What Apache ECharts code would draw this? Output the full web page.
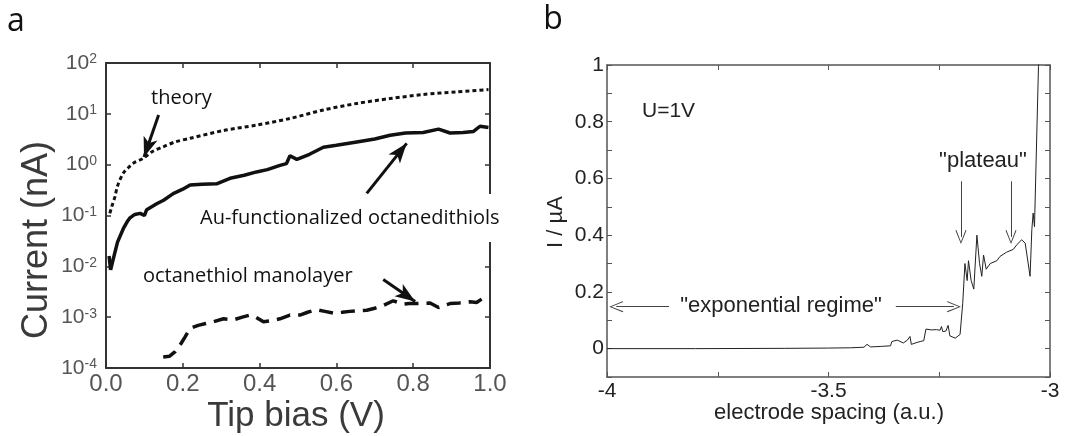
<!DOCTYPE html>
<html><head><meta charset="utf-8">
<script src="https://cdn.jsdelivr.net/npm/echarts@6/dist/echarts.min.js"></script>
<style>html,body{margin:0;padding:0;background:#fff}#c{width:1067px;height:436px}</style>
</head><body><div id="c"></div>
<script>
// ---------- Panel a data (Current nA vs Tip bias V) ----------
const theoryX = [0.01, 0.015, 0.023, 0.03, 0.045, 0.06, 0.071, 0.097, 0.12, 0.149, 0.18, 0.219, 0.306, 0.392, 0.479, 0.566, 0.653, 0.74, 0.826, 0.913, 0.996];
const theoryY = [0.11, 0.15, 0.23, 0.38, 0.68, 0.9, 1.07, 1.33, 1.8, 2.25, 2.8, 3.3, 4.7, 6.0, 8.1, 11.9, 16, 20, 24, 27, 30];

const auX = [0.008, 0.012, 0.02, 0.03, 0.045, 0.055, 0.0625, 0.075, 0.089, 0.1, 0.106, 0.12, 0.132, 0.15, 0.175, 0.2, 0.219, 0.25, 0.288, 0.323, 0.36, 0.392, 0.42, 0.453, 0.47, 0.479, 0.497, 0.53, 0.566, 0.6, 0.653, 0.7, 0.74, 0.78, 0.826, 0.866, 0.896, 0.93, 0.957, 0.974, 0.996];
const auY = [0.016, 0.0085, 0.015, 0.03, 0.055, 0.075, 0.09, 0.105, 0.11, 0.1, 0.13, 0.15, 0.17, 0.2, 0.27, 0.33, 0.40, 0.41, 0.42, 0.54, 0.62, 0.72, 0.8, 0.97, 1.05, 1.5, 1.27, 1.6, 2.2, 2.4, 2.8, 3.2, 3.8, 4.2, 4.3, 5.0, 4.2, 4.3, 4.5, 5.7, 5.4];

const octX = [0.149, 0.165, 0.18, 0.195, 0.206, 0.219, 0.24, 0.26, 0.279, 0.306, 0.332, 0.355, 0.375, 0.39, 0.41, 0.43, 0.453, 0.479, 0.505, 0.525, 0.548, 0.57, 0.592, 0.615, 0.635, 0.66, 0.679, 0.7, 0.722, 0.748, 0.774, 0.79, 0.809, 0.844, 0.866, 0.88, 0.896, 0.92, 0.948, 0.965, 0.987];
const octY = [1.65e-4, 1.7e-4, 2.1e-4, 3e-4, 4.1e-4, 6e-4, 6.9e-4, 7.5e-4, 8.1e-4, 9.3e-4, 8.9e-4, 1.0e-3, 1.1e-3, 1.0e-3, 8.1e-4, 8.5e-4, 9.3e-4, 1.1e-3, 1.1e-3, 1.25e-3, 1.4e-3, 1.3e-3, 1.2e-3, 1.25e-3, 1.3e-3, 1.35e-3, 1.37e-3, 1.5e-3, 1.7e-3, 2.1e-3, 1.8e-3, 1.85e-3, 1.85e-3, 1.9e-3, 1.55e-3, 1.7e-3, 1.85e-3, 1.9e-3, 2.0e-3, 1.95e-3, 2.5e-3];

// annotation arrows in panel a: [from, to] in data coordinates
const arrowsA = [
  [[0.137, 9.5], [0.099, 1.41]],
  [[0.679, 0.272], [0.783, 2.63]],
  [[0.722, 5.5e-3], [0.805, 2.04e-3]]
];

// ---------- Panel b data (I / µA vs electrode spacing) ----------
const bX = [-4, -3.8, -3.6, -3.5, -3.45, -3.42, -3.413, -3.405, -3.38, -3.36, -3.357, -3.354, -3.345, -3.331, -3.322, -3.316, -3.313, -3.3, -3.293, -3.285, -3.28, -3.268, -3.256, -3.248, -3.245, -3.242, -3.235, -3.23, -3.226, -3.214, -3.203, -3.197, -3.192, -3.187, -3.184, -3.178, -3.172, -3.165, -3.159, -3.154, -3.15, -3.144, -3.135, -3.12, -3.113, -3.098, -3.083, -3.075, -3.064, -3.056, -3.045, -3.041, -3.038, -3.035, -3.026, -3.02];
const bY = [0, 0, 0.001, 0.002, 0.003, 0.005, 0.015, 0.006, 0.008, 0.01, 0.025, 0.032, 0.03, 0.02, 0.03, 0.043, 0.015, 0.022, 0.025, 0.028, 0.069, 0.066, 0.067, 0.065, 0.078, 0.06, 0.062, 0.082, 0.045, 0.037, 0.05, 0.16, 0.30, 0.24, 0.31, 0.24, 0.21, 0.40, 0.30, 0.255, 0.33, 0.28, 0.30, 0.31, 0.325, 0.34, 0.35, 0.366, 0.384, 0.372, 0.255, 0.42, 0.478, 0.43, 0.995, 1.1];

const arrowsB = [
  [[-3.86, 0.148], [-3.979, 0.148]],
  [[-3.348, 0.148], [-3.217, 0.148]],
  [[-3.201, 0.59], [-3.201, 0.394]],
  [[-3.088, 0.59], [-3.088, 0.394]]
];

const zip = (xs, ys) => xs.map((x, i) => [x, ys[i]]);
const CHEV = 'path://M0,0 L6,12 L5,12.6 L0,2 L-5,12.6 L-6,12 Z';

const gA = '#333', gB = '#555';
const sans = 'Liberation Sans, Arial, sans-serif';

function axA(extra) {
  return Object.assign({
    gridIndex: 0,
    axisLine: {onZero: false, lineStyle: {color: gA, width: 2}},
    axisTick: {inside: true, length: 5, lineStyle: {color: gA, width: 1.5}},
    splitLine: {show: false}
  }, extra);
}
function axB(extra) {
  return Object.assign({
    gridIndex: 1,
    axisLine: {onZero: false, lineStyle: {color: gB, width: 1.5}},
    axisTick: {inside: true, length: 5, lineStyle: {color: gB, width: 1}},
    splitLine: {show: false}
  }, extra);
}
const expFmt = v => {
  const e = Math.round(Math.log10(v));
  return '{b|10}{s|' + e + '}';
};
const expRich = {
  b: {fontSize: 21, lineHeight: 21, color: '#555', fontFamily: sans, verticalAlign: 'middle'},
  s: {fontSize: 14, lineHeight: 14, color: '#555', fontFamily: sans, verticalAlign: 'top'}
};

const option = {
  animation: false,
  backgroundColor: '#fff',
  grid: [
    {left: 106, top: 63, width: 384, height: 305},
    {left: 607, top: 65, width: 443, height: 312}
  ],
  xAxis: [
    axA({type: 'value', min: 0, max: 1, interval: 0.2, position: 'bottom',
      axisLabel: {color: '#555', fontSize: 24, fontFamily: sans, margin: 4, formatter: v => v.toFixed(1)}}),
    axA({type: 'value', min: 0, max: 1, interval: 0.2, position: 'top', axisLabel: {show: false}}),
    axB({type: 'value', min: -4, max: -3, interval: 0.25, position: 'bottom',
      axisLabel: {color: '#222', fontSize: 21, fontFamily: sans, margin: 4,
        formatter: v => { const k = Math.round(v * 4); return (k % 2) ? '' : String(k / 4); }}}),
    axB({type: 'value', min: -4, max: -3, interval: 0.25, position: 'top', axisLabel: {show: false}})
  ],
  yAxis: [
    axA({type: 'log', logBase: 10, min: 1e-4, max: 100, splitNumber: 6, position: 'left',
      axisLabel: {margin: 9, formatter: expFmt, rich: expRich}}),
    axA({type: 'log', logBase: 10, min: 1e-4, max: 100, splitNumber: 6, position: 'right', axisLabel: {show: false}}),
    axB({type: 'value', min: -0.1, max: 1, interval: 0.1, position: 'left',
      axisLabel: {color: '#222', fontSize: 21, fontFamily: sans, margin: 3,
        formatter: v => { const k = Math.round(v * 10); return (k < 0 || k % 2) ? '' : String(k / 10); }}}),
    axB({type: 'value', min: -0.1, max: 1, interval: 0.1, position: 'right', axisLabel: {show: false}})
  ],
  series: [
    {type: 'line', name: 'theory', xAxisIndex: 0, yAxisIndex: 0, data: zip(theoryX, theoryY),
      symbol: 'none', smooth: 0.3, lineStyle: {color: '#111', width: 3, type: [4, 3]},
      markLine: {
        silent: true, animation: false, symbol: ['none', 'arrow'], symbolSize: 16,
        label: {show: false}, emphasis: {disabled: true},
        lineStyle: {type: 'solid', color: '#111', width: 3},
        data: arrowsA.map(a => [{coord: a[0]}, {coord: a[1], symbol: 'arrow', symbolSize: [11, 20]}])
      }},
    {type: 'line', name: 'Au-functionalized octanedithiols', xAxisIndex: 0, yAxisIndex: 0, data: zip(auX, auY),
      symbol: 'none', lineStyle: {color: '#111', width: 3.5}},
    {type: 'line', name: 'octanethiol manolayer', xAxisIndex: 0, yAxisIndex: 0, data: zip(octX, octY),
      symbol: 'none', lineStyle: {color: '#111', width: 3.5, type: [14, 8]}},
    {type: 'line', name: 'I', xAxisIndex: 2, yAxisIndex: 2, data: zip(bX, bY),
      symbol: 'none', lineStyle: {color: '#222', width: 1},
      markLine: {
        silent: true, animation: false, symbol: ['none', CHEV], symbolSize: 12,
        label: {show: false}, emphasis: {disabled: true},
        lineStyle: {type: 'solid', color: '#444', width: 1},
        data: arrowsB.map(a => [{coord: a[0]}, {coord: a[1], symbol: CHEV, symbolSize: [11, 14]}])
      }}
  ],
  graphic: [
    {type: 'text', x: 16, y: 22, z: 100, style: {text: 'a', font: '32px Open Sans', fill: '#111', align: 'center', verticalAlign: 'middle'}},
    {type: 'text', x: 553, y: 20, z: 100, style: {text: 'b', font: '32px Open Sans', fill: '#111', align: 'center', verticalAlign: 'middle'}},
    {type: 'text', x: 37, y: 240, rotation: Math.PI / 2, z: 100, style: {text: 'Current (nA)', font: '36px Liberation Sans', fill: '#3a3a3a', align: 'center', verticalAlign: 'middle'}},
    {type: 'text', x: 296, y: 416, z: 100, style: {text: 'Tip bias (V)', font: '35px Liberation Sans', fill: '#3a3a3a', align: 'center', verticalAlign: 'middle'}},
    {type: 'text', x: 151, y: 98, z: 100, style: {text: 'theory', font: '20px Open Sans', fill: '#111', align: 'left', verticalAlign: 'middle'}},
    {type: 'text', x: 192, y: 218, z: 100, style: {text: 'Au-functionalized octanedithiols', font: '20px Open Sans', fill: '#111', align: 'left', verticalAlign: 'middle', backgroundColor: '#fff', padding: [14, 8, 14, 8]}},
    {type: 'text', x: 143, y: 276, z: 100, style: {text: 'octanethiol manolayer', font: '20px Open Sans', fill: '#111', align: 'left', verticalAlign: 'middle'}},
    {type: 'text', x: 556, y: 222, rotation: Math.PI / 2, z: 100, style: {text: 'I / µA', font: '22px Liberation Sans', fill: '#222', align: 'center', verticalAlign: 'middle'}},
    {type: 'text', x: 829, y: 413, z: 100, style: {text: 'electrode spacing (a.u.)', font: '22px Liberation Sans', fill: '#222', align: 'center', verticalAlign: 'middle'}},
    {type: 'text', x: 642, y: 111, z: 100, style: {text: 'U=1V', font: '21px Liberation Sans', fill: '#222', align: 'left', verticalAlign: 'middle'}},
    {type: 'text', x: 983, y: 161, z: 100, style: {text: '"plateau"', font: '22px Liberation Sans', fill: '#222', align: 'center', verticalAlign: 'middle'}},
    {type: 'text', x: 781, y: 306, z: 100, style: {text: '"exponential regime"', font: '22px Liberation Sans', fill: '#222', align: 'center', verticalAlign: 'middle'}}
  ]
};
const chart = echarts.init(document.getElementById('c'));
chart.setOption(option);
</script>
</body></html>
